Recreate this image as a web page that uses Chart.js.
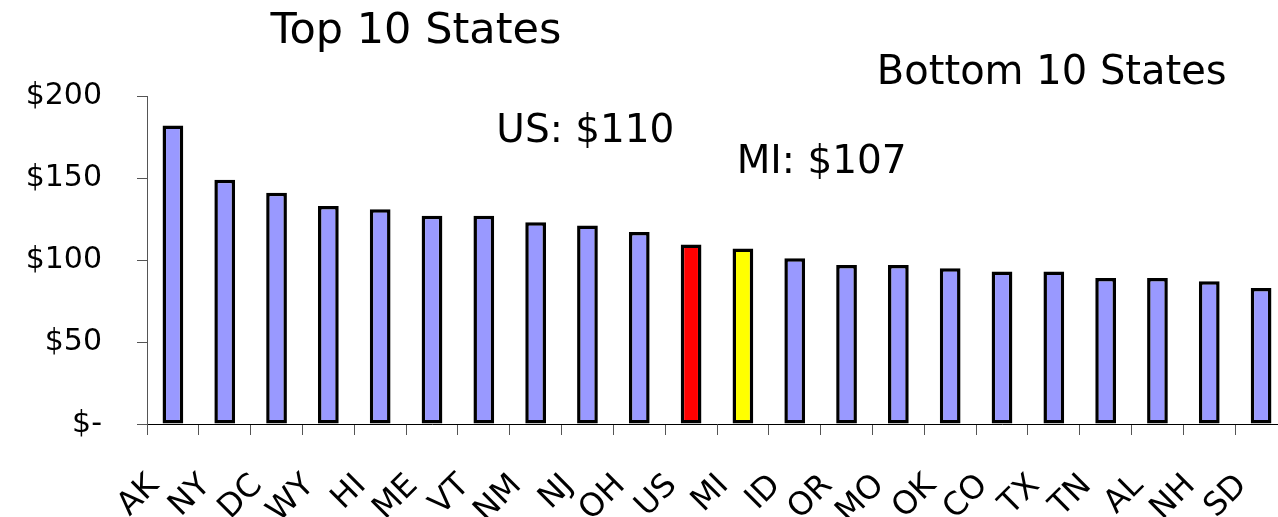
<!DOCTYPE html>
<html>
<head>
<meta charset="utf-8">
<script src="https://cdn.jsdelivr.net/npm/chart.js@4.4.0/dist/chart.umd.min.js"></script>
<style>
  html, body { margin: 0; padding: 0; background: #ffffff; overflow: hidden; width: 1278px; height: 517px; }
  #wrap { position: absolute; left: 0; top: 0; width: 1300px; height: 517px; }
</style>
</head>
<body>
<div id="wrap"><canvas id="chart" width="1300" height="517"></canvas></div>
<script>
// ---- data ----
const categories = ['AK','NY','DC','WY','HI','ME','VT','NM','NJ','OH','US','MI','ID','OR','MO','OK','CO','TX','TN','AL','NH','SD'];
const spending   = [182, 149, 141, 133, 131, 127, 127, 123, 121, 117, 109.5, 107, 101, 97, 97, 95, 93, 93, 89, 89, 87, 83];
const yTickValues = [0, 50, 100, 150, 200];
const yTickLabels = ['$-', '$50', '$100', '$150', '$200'];
const highlightUS = 'US';
const highlightMI = 'MI';
const noteTexts = ['Top 10 States', 'Bottom 10 States', 'US: $110', 'MI: $107'];

// ---- styles ----
const FONT = '"DejaVu Sans", "Liberation Sans", Arial, sans-serif';
const fillFor = c => c === highlightUS ? '#FF0000' : (c === highlightMI ? '#FFFF00' : '#9999FF');

// annotation anchors in data units (category index, value)
const notes = [
  { text: noteTexts[0], at: [4.69, 232.6], size: 43 },
  { text: noteTexts[1], at: [16.96, 207.2], size: 40 },
  { text: noteTexts[2], at: [7.96, 172.1], size: 39 },
  { text: noteTexts[3], at: [12.52, 152.9], size: 39 }
];

const notesPlugin = {
  id: 'notes',
  afterDraw(chart) {
    const { ctx, scales: { x, y } } = chart;
    ctx.save();
    ctx.fillStyle = '#000000';
    ctx.textAlign = 'center';
    ctx.textBaseline = 'alphabetic';
    notes.forEach(n => {
      ctx.font = n.size + 'px ' + FONT;
      ctx.fillText(n.text, x.getPixelForValue(n.at[0]), y.getPixelForValue(n.at[1]));
    });
    ctx.restore();
  }
};

new Chart(document.getElementById('chart'), {
  type: 'bar',
  data: {
    labels: categories,
    datasets: [{
      data: spending,
      backgroundColor: categories.map(fillFor),
      borderColor: '#000000',
      borderWidth: 3.5,
      borderSkipped: false,
      categoryPercentage: 1.0,
      barPercentage: 0.4
    }]
  },
  options: {
    responsive: false,
    animation: false,
    devicePixelRatio: 1,
    layout: { padding: { top: 96, right: 13, left: 0, bottom: 0 } },
    plugins: { legend: { display: false }, tooltip: { enabled: false }, title: { display: false } },
    scales: {
      x: {
        offset: true,
        grid: { offset: true, drawOnChartArea: false, drawTicks: true, tickLength: 11, color: '#555555' },
        border: { display: true, color: '#000000', width: 1 },
        ticks: {
          color: '#000000',
          font: { family: FONT, size: 32 },
          minRotation: 45, maxRotation: 45,
          padding: 32,
          labelOffset: -19,
          autoSkip: false
        },
        afterFit(scale) { scale.height = 93; scale.paddingLeft = 0; scale.paddingRight = 0; }
      },
      y: {
        min: 0, max: 200,
        afterBuildTicks(scale) { scale.ticks = yTickValues.map(v => ({ value: v })); },
        grid: { drawOnChartArea: false, drawTicks: true, tickLength: 10, color: '#555555' },
        border: { display: true, color: '#555555', width: 1 },
        ticks: {
          color: '#000000',
          font: { family: FONT, size: 30 },
          padding: 35,
          callback: (v) => yTickLabels[yTickValues.indexOf(v)]
        },
        afterFit(scale) { scale.width = 147; }
      }
    }
  },
  plugins: [notesPlugin]
});
</script>
</body>
</html>
